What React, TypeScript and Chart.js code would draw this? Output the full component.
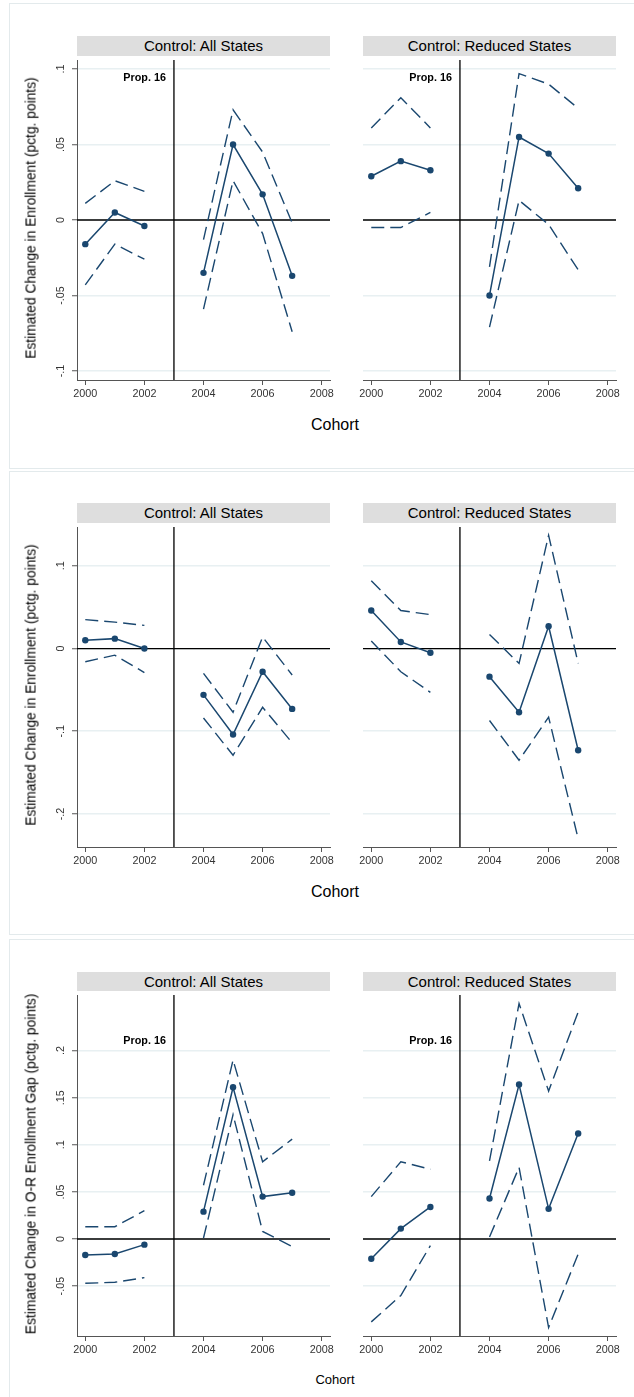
import React, { useEffect, useRef } from "react";
import { Chart, registerables } from "chart.js";

Chart.register(...registerables);

// Cohorts with estimates (2003 is the Prop. 16 break and has no estimate)
const cohorts = [2000, 2001, 2002, 2004, 2005, 2006, 2007];
const xTicks = [2000, 2002, 2004, 2006, 2008];
const xRange = [1999.72, 2008.28];
const breakYear = 2003;

// Row A: change in enrollment
const allEstA = [-0.016, 0.005, -0.004, -0.035, 0.05, 0.017, -0.037];
const allHiA = [0.011, 0.026, 0.019, -0.013, 0.073, 0.045, -0.002];
const allLoA = [-0.043, -0.016, -0.026, -0.059, 0.026, -0.009, -0.074];
const redEstA = [0.029, 0.039, 0.033, -0.05, 0.055, 0.044, 0.021];
const redHiA = [0.061, 0.081, 0.061, -0.031, 0.097, 0.09, 0.074];
const redLoA = [-0.005, -0.005, 0.005, -0.071, 0.013, -0.003, -0.033];
const yTicksA = [-0.1, -0.05, 0, 0.05, 0.1];
const yRangeA = [-0.106, 0.106];

// Row B: change in enrollment
const allEstB = [0.01, 0.012, 0.0, -0.056, -0.104, -0.028, -0.073];
const allHiB = [0.035, 0.032, 0.028, -0.03, -0.077, 0.014, -0.032];
const allLoB = [-0.016, -0.008, -0.029, -0.084, -0.129, -0.071, -0.114];
const redEstB = [0.046, 0.008, -0.005, -0.034, -0.077, 0.027, -0.123];
const redHiB = [0.082, 0.046, 0.041, 0.017, -0.018, 0.137, -0.018];
const redLoB = [0.009, -0.028, -0.053, -0.087, -0.135, -0.083, -0.23];
const yTicksB = [-0.2, -0.1, 0, 0.1];
const yRangeB = [-0.24, 0.147];

// Row C: change in O-R enrollment gap
const allEstC = [-0.017, -0.016, -0.006, 0.029, 0.161, 0.045, 0.049];
const allHiC = [0.013, 0.013, 0.03, 0.057, 0.19, 0.082, 0.106];
const allLoC = [-0.047, -0.046, -0.041, 0.001, 0.132, 0.008, -0.008];
const redEstC = [-0.021, 0.011, 0.034, 0.043, 0.164, 0.032, 0.112];
const redHiC = [0.045, 0.082, 0.074, 0.083, 0.25, 0.157, 0.241];
const redLoC = [-0.088, -0.06, -0.007, 0.002, 0.076, -0.094, -0.016];
const yTicksC = [-0.05, 0, 0.05, 0.1, 0.15, 0.2];
const yRangeC = [-0.103, 0.259];

const stripTitles = ["Control: All States", "Control: Reduced States"];
const yTitleEnroll = "Estimated Change in Enrollment (pctg. points)";
const yTitleGap = "Estimated Change in O-R Enrollment Gap (pctg. points)";
const xTitle = "Cohort";
const breakLabel = "Prop. 16";

const NAVY = "#1a476f";
const FONT = '"Liberation Sans", Arial, Helvetica, sans-serif';
const PLOT_W = 253;
const LEFT_X = 77;
const RIGHT_X = 363;

const fmtTick = (v: number) => (v === 0 ? "0" : String(v).replace("0.", "."));

function toPoints(vals: number[]) {
  const pts: { x: number; y: number | null }[] = [];
  cohorts.forEach((c, i) => {
    if (i > 0 && c - cohorts[i - 1] > 1) pts.push({ x: breakYear, y: null });
    pts.push({ x: c, y: vals[i] });
  });
  return pts;
}

type SubProps = {
  plotLeft: number;
  plotTop: number;
  plotHeight: number;
  est: number[];
  hi: number[];
  lo: number[];
  yTicks: number[];
  yRange: number[];
  showAxis: boolean;
  labelY: number | null;
};

function SubPlot(p: SubProps) {
  const ref = useRef<HTMLCanvasElement>(null);
  const padL = p.showAxis ? 45 : 20;
  const padR = 22;
  const axisH = 30;
  const width = padL + PLOT_W + padR;
  const height = p.plotHeight + axisH;

  useEffect(() => {
    if (!ref.current) return;
    const ciStyle = {
      borderColor: NAVY,
      borderWidth: 1.4,
      borderDash: [13, 6],
      pointRadius: 0,
      spanGaps: false,
      tension: 0,
      fill: false,
    };
    const refLines = {
      id: "refLines",
      beforeDatasetsDraw(chart: any) {
        const { ctx, chartArea: a, scales } = chart;
        const y0 = scales.y.getPixelForValue(0);
        const xb = scales.x.getPixelForValue(breakYear);
        ctx.save();
        ctx.strokeStyle = "#000";
        ctx.lineWidth = 1.3;
        ctx.beginPath();
        ctx.moveTo(a.left, y0);
        ctx.lineTo(a.right, y0);
        ctx.moveTo(xb, a.top);
        ctx.lineTo(xb, a.bottom);
        ctx.stroke();
        if (p.labelY !== null) {
          ctx.fillStyle = "#000";
          ctx.font = `bold 10.8px ${FONT}`;
          ctx.textAlign = "right";
          ctx.textBaseline = "middle";
          ctx.fillText(breakLabel, xb - 8, scales.y.getPixelForValue(p.labelY));
        }
        ctx.restore();
      },
      afterDraw(chart: any) {
        if (!p.showAxis) return;
        const { ctx, chartArea: a, scales } = chart;
        ctx.save();
        ctx.fillStyle = "#333";
        ctx.font = `10.8px ${FONT}`;
        ctx.textAlign = "center";
        ctx.textBaseline = "alphabetic";
        for (const t of scales.y.ticks) {
          const py = scales.y.getPixelForValue(t.value);
          ctx.save();
          ctx.translate(a.left - 13, py);
          ctx.rotate(-Math.PI / 2);
          ctx.fillText(fmtTick(t.value), 0, 0);
          ctx.restore();
        }
        ctx.restore();
      },
    };

    const chart = new Chart(ref.current, {
      type: "line",
      data: {
        datasets: [
          { ...ciStyle, data: toPoints(p.hi) },
          { ...ciStyle, data: toPoints(p.lo) },
          {
            data: toPoints(p.est),
            borderColor: NAVY,
            borderWidth: 1.5,
            pointRadius: 3.2,
            pointBackgroundColor: NAVY,
            pointBorderColor: NAVY,
            pointBorderWidth: 0,
            spanGaps: false,
            tension: 0,
            fill: false,
          },
        ] as any,
      },
      options: {
        responsive: false,
        animation: false,
        events: [],
        layout: { padding: { left: 0, right: padR, top: 0, bottom: 0 } },
        plugins: { legend: { display: false }, tooltip: { enabled: false } },
        scales: {
          x: {
            type: "linear",
            min: xRange[0],
            max: xRange[1],
            afterBuildTicks: (s: any) => {
              s.ticks = xTicks.map((v) => ({ value: v }));
            },
            afterFit: (s: any) => {
              s.height = axisH;
            },
            border: { display: true, color: "#555", width: 1 },
            grid: {
              display: true,
              drawOnChartArea: false,
              drawTicks: true,
              tickLength: 5,
              tickColor: "#555",
              tickWidth: 1,
            },
            ticks: {
              color: "#333",
              font: { family: FONT, size: 10.8 },
              padding: 3,
              maxRotation: 0,
              minRotation: 0,
              autoSkip: false,
              callback: (v: any) => String(v),
            },
          },
          y: {
            type: "linear",
            min: p.yRange[0],
            max: p.yRange[1],
            afterBuildTicks: (s: any) => {
              s.ticks = p.yTicks.map((v) => ({ value: v }));
            },
            afterFit: (s: any) => {
              s.width = padL;
            },
            border: { display: p.showAxis, color: "#555", width: 1 },
            grid: {
              color: "#e8f0f2",
              lineWidth: 1.5,
              drawTicks: p.showAxis,
              tickLength: 5,
              tickColor: "#555",
              tickWidth: 1,
            },
            ticks: { display: false },
          },
        },
      } as any,
      plugins: [refLines],
    });
    return () => chart.destroy();
  }, []);

  return (
    <canvas
      ref={ref}
      width={width}
      height={height}
      style={{
        position: "absolute",
        left: p.plotLeft - padL,
        top: p.plotTop,
        width,
        height,
      }}
    />
  );
}

type RowSpec = {
  frameTop: number;
  frameBottom: number;
  stripTop: number;
  plotTop: number;
  plotBottom: number;
  xTitleY: number;
  xTitleSize: number;
  yTitle: string;
  yTicks: number[];
  yRange: number[];
  all: number[][];
  red: number[][];
  labelY: number | null;
};

const rows: RowSpec[] = [
  {
    frameTop: 3, frameBottom: 469, stripTop: 36, plotTop: 56, plotBottom: 380,
    xTitleY: 425, xTitleSize: 16, yTitle: yTitleEnroll, yTicks: yTicksA, yRange: yRangeA,
    all: [allEstA, allHiA, allLoA], red: [redEstA, redHiA, redLoA], labelY: 0.094,
  },
  {
    frameTop: 471, frameBottom: 935, stripTop: 503, plotTop: 523, plotBottom: 847,
    xTitleY: 892, xTitleSize: 16, yTitle: yTitleEnroll, yTicks: yTicksB, yRange: yRangeB,
    all: [allEstB, allHiB, allLoB], red: [redEstB, redHiB, redLoB], labelY: null,
  },
  {
    frameTop: 939, frameBottom: 1420, stripTop: 972, plotTop: 991, plotBottom: 1336,
    xTitleY: 1379, xTitleSize: 13, yTitle: yTitleGap, yTicks: yTicksC, yRange: yRangeC,
    all: [allEstC, allHiC, allLoC], red: [redEstC, redHiC, redLoC], labelY: 0.21,
  },
];

function Strip({ left, top, height, text }: { left: number; top: number; height: number; text: string }) {
  return (
    <div
      style={{
        position: "absolute",
        left,
        top,
        width: PLOT_W,
        height,
        background: "#dedede",
        color: "#000",
        font: `15px ${FONT}`,
        lineHeight: `${height}px`,
        textAlign: "center",
        whiteSpace: "nowrap",
      }}
    >
      {text}
    </div>
  );
}

function Row({ r }: { r: RowSpec }) {
  const plotH = r.plotBottom - r.plotTop;
  const midY = (r.plotTop + r.plotBottom) / 2;
  return (
    <>
      <div
        style={{
          position: "absolute",
          left: 9,
          top: r.frameTop,
          width: 660,
          height: r.frameBottom - r.frameTop,
          border: "1px solid #e3eaec",
          boxSizing: "border-box",
        }}
      />
      <Strip left={LEFT_X} top={r.stripTop} height={r.plotTop - r.stripTop} text={stripTitles[0]} />
      <Strip left={RIGHT_X} top={r.stripTop} height={r.plotTop - r.stripTop} text={stripTitles[1]} />
      <SubPlot
        plotLeft={LEFT_X}
        plotTop={r.plotTop}
        plotHeight={plotH}
        est={r.all[0]}
        hi={r.all[1]}
        lo={r.all[2]}
        yTicks={r.yTicks}
        yRange={r.yRange}
        showAxis={true}
        labelY={r.labelY}
      />
      <SubPlot
        plotLeft={RIGHT_X}
        plotTop={r.plotTop}
        plotHeight={plotH}
        est={r.red[0]}
        hi={r.red[1]}
        lo={r.red[2]}
        yTicks={r.yTicks}
        yRange={r.yRange}
        showAxis={false}
        labelY={r.labelY}
      />
      <div style={{ position: "absolute", left: 31, top: midY, width: 0, height: 0 }}>
        <div
          style={{
            position: "absolute",
            left: 0,
            top: 0,
            transform: "translate(-50%, -50%) rotate(-90deg)",
            whiteSpace: "nowrap",
            font: `13.8px ${FONT}`,
            color: "#000",
          }}
        >
          {r.yTitle}
        </div>
      </div>
      <div
        style={{
          position: "absolute",
          left: 235,
          top: r.xTitleY,
          width: 200,
          textAlign: "center",
          transform: "translateY(-50%)",
          font: `${r.xTitleSize}px ${FONT}`,
          color: "#000",
        }}
      >
        {xTitle}
      </div>
    </>
  );
}

export default function App() {
  return (
    <div
      style={{
        position: "absolute",
        left: 0,
        top: 0,
        width: 634,
        height: 1397,
        background: "#fff",
        overflow: "hidden",
      }}
    >
      {rows.map((r, i) => (
        <Row key={i} r={r} />
      ))}
    </div>
  );
}
